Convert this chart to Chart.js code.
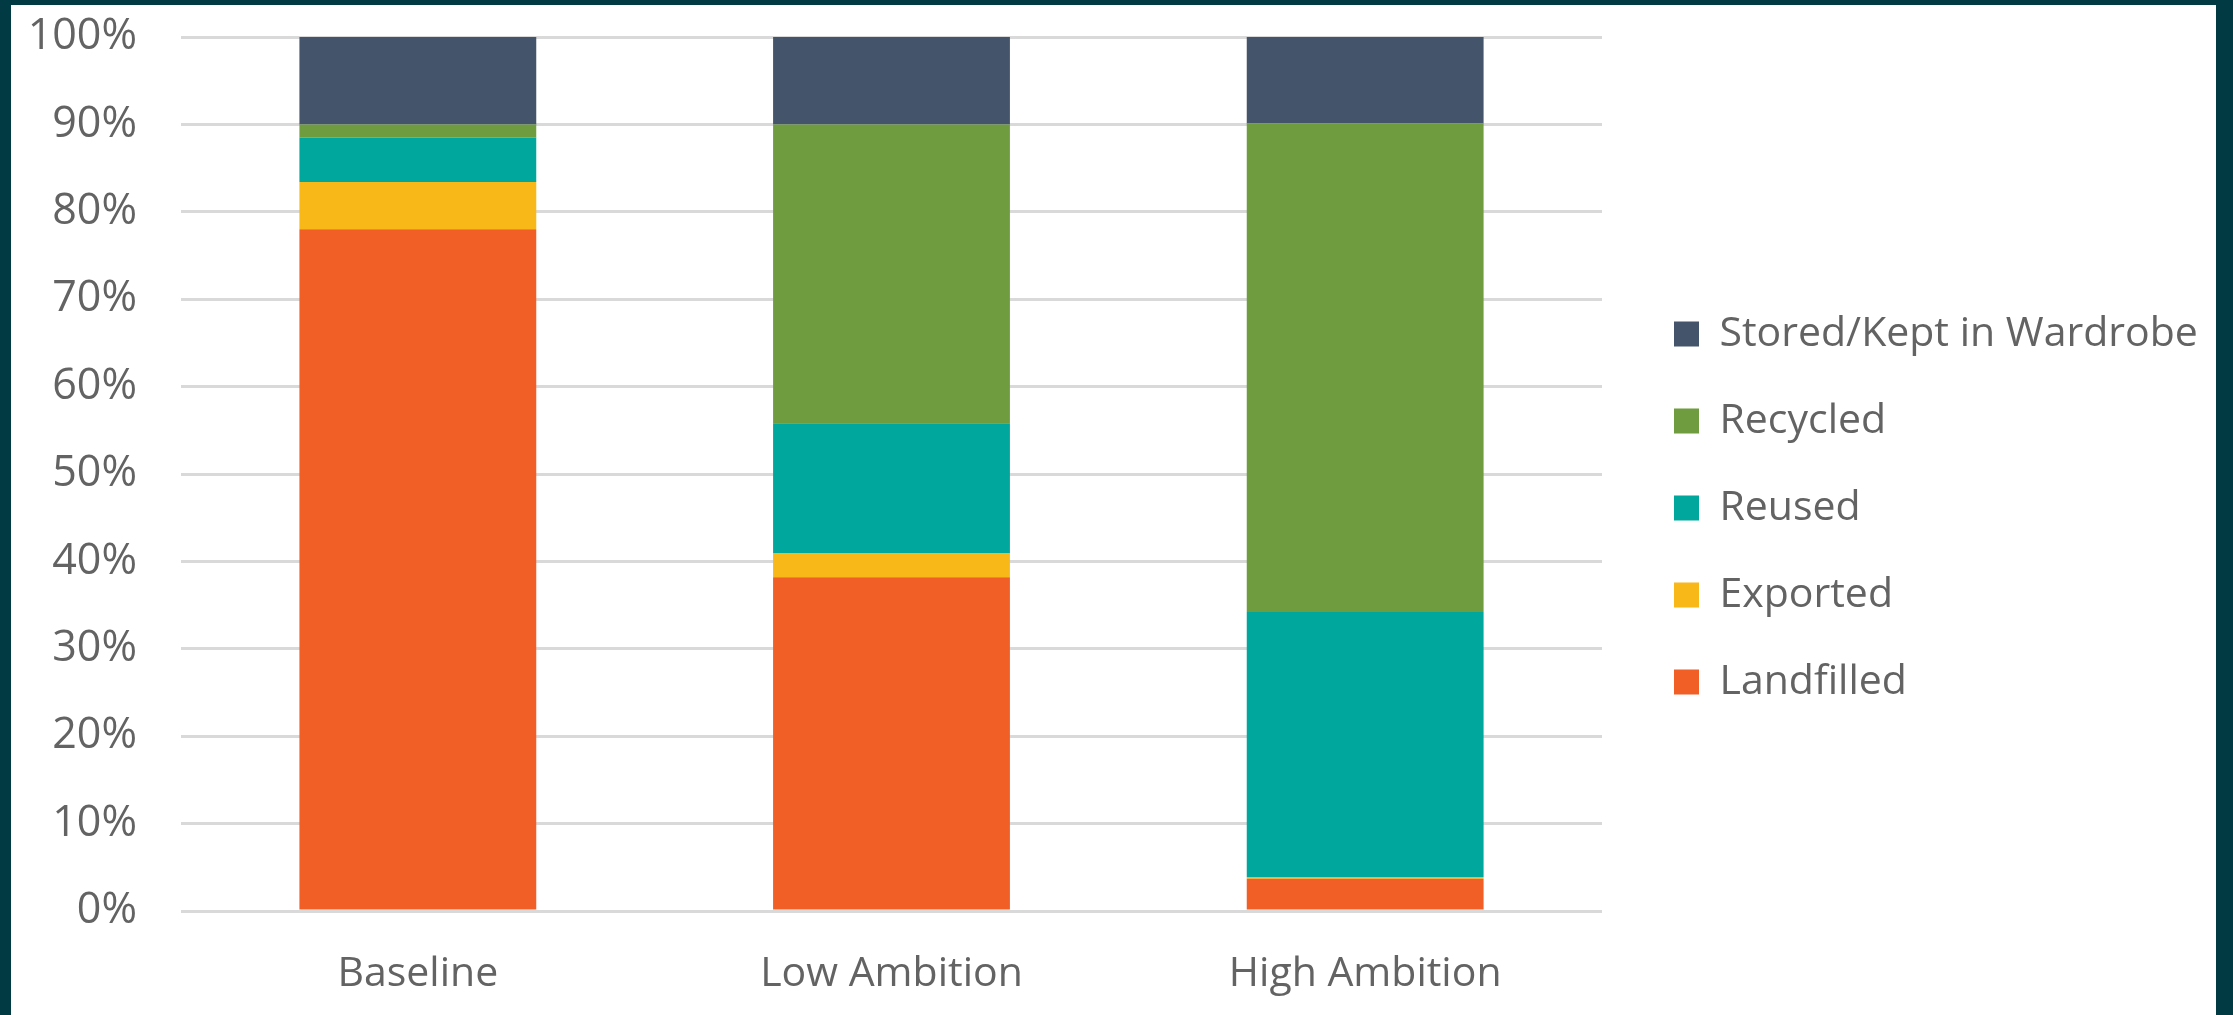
<!DOCTYPE html>
<html>
<head>
<meta charset="utf-8">
<title>Textile end-of-life scenarios</title>
<script src="https://cdn.jsdelivr.net/npm/chart.js@4.4.1/dist/chart.umd.min.js"></script>
<style>
  html, body { margin: 0; padding: 0; }
  body { width: 2233px; height: 1015px; background: #023a44; position: relative; overflow: hidden; }
  #wrap { position: absolute; left: 11px; top: 5px; width: 2205px; height: 1010px; background: #fff; }
</style>
</head>
<body>
<div id="wrap"><canvas id="myChart"></canvas></div>
<script>
// data (percent of total)
const categories = ['Baseline', 'Low Ambition', 'High Ambition'];
const landfilled = [78.0, 38.2, 3.7];
const exported   = [5.4, 2.7, 0.2];
const reused     = [5.1, 14.9, 30.3];
const recycled   = [1.5, 34.2, 55.9];
const stored     = [10.0, 10.0, 10.0];
const yTicks = [0, 10, 20, 30, 40, 50, 60, 70, 80, 90, 100];

const textGrey = '#636363';
const fontFamily = "'Open Sans', 'Noto Sans', sans-serif";
const legendFont = 41;
const legendPad = 46;

// legend placed further right than chart.js would put it
const LEGEND_W = 614;
const legendFix = {
  id: 'legendFix',
  beforeLayout(chart) {
    const lg = chart.legend;
    if (lg && !lg._patched) {
      const fit = lg.fit.bind(lg);
      lg.fit = function () { fit(); this.width = LEGEND_W; };
      lg._patched = true;
    }
  },
  afterLayout(chart) {
    const lg = chart.legend;
    const h = lg.bottom - lg.top;
    lg.left = 1663 - legendPad;
    lg.right = lg.left + LEGEND_W;
    lg.top = 329 - legendFont / 2 - legendPad;
    lg.bottom = lg.top + h;
  }
};

const data = {
  labels: categories,
  datasets: [
    { label: 'Landfilled', data: landfilled, backgroundColor: '#f15e26' },
    { label: 'Exported', data: exported, backgroundColor: '#f8b818' },
    { label: 'Reused', data: reused, backgroundColor: '#00a79c' },
    { label: 'Recycled', data: recycled, backgroundColor: '#6f9c3e' },
    { label: 'Stored/Kept in Wardrobe', data: stored, backgroundColor: '#44546a' }
  ]
};

const config = {
  type: 'bar',
  data,
  plugins: [legendFix],
  options: {
    responsive: true,
    maintainAspectRatio: false,
    animation: false,
    categoryPercentage: 1.0,
    barPercentage: 0.5,
    layout: { padding: { top: 32, left: 0, right: 0, bottom: 0 } },
    plugins: {
      tooltip: { enabled: false },
      legend: {
        position: 'right',
        align: 'start',
        reverse: true,
        labels: {
          boxWidth: 25,
          boxHeight: 25,
          padding: legendPad,
          color: textGrey,
          font: { family: fontFamily, size: legendFont }
        }
      }
    },
    scales: {
      x: {
        stacked: true,
        grid: { display: false, drawTicks: false },
        border: { display: false },
        ticks: {
          padding: 39,
          color: textGrey,
          font: { family: fontFamily, size: 41 }
        },
        afterFit(scale) { scale.height = 104; }
      },
      y: {
        stacked: true,
        min: 0,
        max: 100,
        afterBuildTicks(scale) { scale.ticks = yTicks.map(v => ({ value: v })); },
        // invisible tick marks give the gap between labels and plot
        grid: { color: '#d9d9d9', lineWidth: 3, drawTicks: true, tickLength: 44, tickColor: 'rgba(0,0,0,0)' },
        border: { display: false },
        ticks: {
          padding: 0,
          color: textGrey,
          font: { family: fontFamily, size: 43 },
          callback: v => v + '%'
        },
        afterFit(scale) { scale.width = 170; }
      }
    }
  }
};

const myChart = new Chart(document.getElementById('myChart'), config);
</script>
</body>
</html>
